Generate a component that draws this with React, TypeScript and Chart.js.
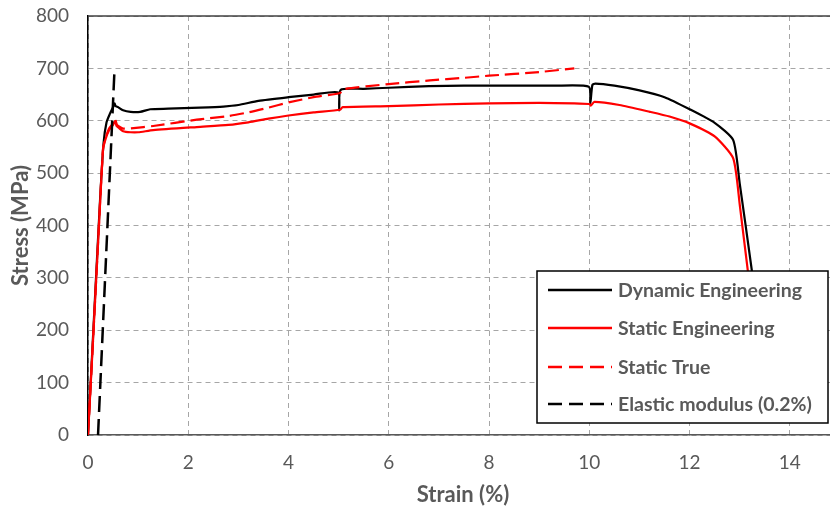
import React, { useEffect, useRef } from "react";
import { Chart, registerables } from "chart.js";
Chart.register(...registerables);

// Dynamic Engineering (black solid)
const dynStrain = [0, 0.12, 0.24, 0.31, 0.37, 0.44, 0.5, 0.53, 0.55, 0.6, 0.7, 0.85, 1.04, 1.24, 1.6, 2.23, 2.7, 3.0, 3.4, 4.0, 4.5, 4.99, 5.01, 5.04, 5.5, 6.0, 6.8, 7.5, 8.5, 9.3, 9.99, 10.02, 10.06, 10.12, 10.5, 11.0, 11.5, 12.0, 12.5, 12.87, 13.0, 13.24, 13.45];
const dynStress = [0, 225, 448, 557, 597, 614, 626, 633, 628, 626, 620, 617, 617, 622, 623, 625, 627, 630, 638, 645, 650, 654, 620, 659, 661, 663, 666, 667, 667, 667, 665, 633, 668, 671, 667, 658, 645, 622, 596, 563, 480, 315, 150];

// Static Engineering (red solid)
const sEngStrain = [0, 0.1, 0.2, 0.3, 0.35, 0.42, 0.5, 0.54, 0.57, 0.62, 0.7, 0.85, 1.0, 1.3, 2.17, 2.8, 3.2, 3.6, 4.0, 4.5, 5.03, 5.08, 6.0, 7.0, 8.0, 9.0, 10.0, 10.03, 10.1, 10.6, 11.21, 11.6, 12.0, 12.5, 12.87, 13.0, 13.16, 13.4];
const sEngStress = [0, 180, 365, 545, 565, 582, 592, 600, 590, 586, 580, 578, 578, 582, 588, 592, 597, 604, 610, 616, 621, 626, 628, 631, 633, 634, 632, 629, 636, 630, 617, 608, 595, 570, 528, 440, 315, 150];

// Static True (red dashed)
const sTrueStrain = [0, 0.1, 0.2, 0.3, 0.35, 0.42, 0.5, 0.54, 0.58, 0.7, 0.91, 1.3, 2.17, 2.8, 3.2, 3.6, 4.0, 4.5, 5.03, 5.08, 6.0, 6.82, 7.5, 8.0, 9.0, 9.7];
const sTrueStress = [0, 180, 366, 547, 567, 585, 595, 603, 592, 585, 586, 590, 602, 609, 616, 625, 635, 645, 653, 660, 670, 677, 682, 686, 693, 700];

// Elastic modulus (0.2%) (black dashed)
const elStrain = [0.2, 0.53];
const elStress = [0, 700];

const seriesNames = ["Dynamic Engineering", "Static Engineering", "Static True", "Elastic modulus (0.2%)"];
const xTickValues = [0, 2, 4, 6, 8, 10, 12, 14];
const yTickValues = [0, 100, 200, 300, 400, 500, 600, 700, 800];
const xTitle = "Strain (%)";
const yTitle = "Stress (MPa)";

const FONT = 'Lato, "Open Sans", sans-serif';
const GRAY = "#595959";

function pts(xs: number[], ys: number[]) {
  return xs.map((x, i) => ({ x, y: ys[i] }));
}

const legendItems = [
  { color: "#000000", dash: [] as number[] },
  { color: "#ff0000", dash: [] as number[] },
  { color: "#ff0000", dash: [14, 7] },
  { color: "#000000", dash: [14, 7] },
];

const overlayPlugin = {
  id: "overlay",
  afterDraw(chart: any) {
    const ctx = chart.ctx as CanvasRenderingContext2D;
    const { left, right, top, bottom } = chart.chartArea;
    ctx.save();
    // top border
    ctx.strokeStyle = "#404040";
    ctx.lineWidth = 1.5;
    ctx.beginPath();
    ctx.moveTo(left, top);
    ctx.lineTo(right, top);
    ctx.stroke();

    // axis titles
    ctx.fillStyle = GRAY;
    ctx.font = `bold 22px ${FONT}`;
    ctx.textAlign = "center";
    ctx.textBaseline = "middle";
    ctx.fillText(xTitle, 463, 495);
    ctx.save();
    ctx.translate(21, (top + bottom) / 2);
    ctx.rotate(-Math.PI / 2);
    ctx.fillText(yTitle, 0, 0);
    ctx.restore();

    // legend
    const bx = 537, by = 271, bw = 291, bh = 152;
    ctx.fillStyle = "#ffffff";
    ctx.fillRect(bx, by, bw, bh);
    ctx.strokeStyle = "#000000";
    ctx.lineWidth = 1.5;
    ctx.strokeRect(bx, by, bw, bh);
    const rows = [290, 328, 367, 404];
    ctx.font = `bold 19.5px ${FONT}`;
    ctx.textAlign = "left";
    ctx.textBaseline = "middle";
    legendItems.forEach((it, i) => {
      ctx.strokeStyle = it.color;
      ctx.lineWidth = 2.5;
      ctx.setLineDash(it.dash);
      ctx.beginPath();
      ctx.moveTo(548, rows[i]);
      ctx.lineTo(612, rows[i]);
      ctx.stroke();
      ctx.setLineDash([]);
      ctx.fillStyle = GRAY;
      ctx.fillText(seriesNames[i], 618, rows[i] + 1);
    });
    ctx.restore();
  },
};

export default function App() {
  const ref = useRef<HTMLCanvasElement | null>(null);
  useEffect(() => {
    if (!ref.current) return;
    const chart = new Chart(ref.current, {
      type: "line",
      data: {
        datasets: [
          {
            label: seriesNames[0],
            data: pts(dynStrain, dynStress),
            borderColor: "#000000",
            borderWidth: 2.2,
            pointRadius: 0,
            tension: 0.2,
            order: 3,
          },
          {
            label: seriesNames[1],
            data: pts(sEngStrain, sEngStress),
            borderColor: "#ff0000",
            borderWidth: 2.2,
            pointRadius: 0,
            tension: 0.2,
            order: 2,
          },
          {
            label: seriesNames[2],
            data: pts(sTrueStrain, sTrueStress),
            borderColor: "#ff0000",
            borderWidth: 2.2,
            borderDash: [14, 6],
            pointRadius: 0,
            tension: 0.2,
            order: 1,
          },
          {
            label: seriesNames[3],
            data: pts(elStrain, elStress),
            borderColor: "#000000",
            borderWidth: 2.5,
            borderDash: [16, 7],
            pointRadius: 0,
            order: 0,
          },
        ],
      },
      options: {
        responsive: false,
        animation: false,
        devicePixelRatio: 1,
        layout: { padding: { left: 0, top: 16, right: 10, bottom: 0 } },
        plugins: { legend: { display: false }, tooltip: { enabled: false } },
        scales: {
          x: {
            type: "linear",
            min: 0,
            max: 15,
            afterBuildTicks: (s: any) => {
              s.ticks = xTickValues.map((v) => ({ value: v }));
            },
            afterFit: (s: any) => {
              s.height = 80;
              s.paddingLeft = 0;
              s.paddingRight = 0;
            },
            ticks: { color: GRAY, font: { family: FONT, size: 19 }, padding: 16, maxRotation: 0 },
            grid: { color: "#a6a6a6", lineWidth: 1, tickLength: 0 },
            border: { color: "#595959", width: 1.5, dash: [5, 4] },
          },
          y: {
            type: "linear",
            min: 0,
            max: 800,
            afterBuildTicks: (s: any) => {
              s.ticks = yTickValues.map((v) => ({ value: v }));
            },
            afterFit: (s: any) => {
              s.width = 88;
              s.paddingTop = 0;
              s.paddingBottom = 0;
            },
            ticks: { color: GRAY, font: { family: FONT, size: 19 }, padding: 19 },
            grid: { color: "#a6a6a6", lineWidth: 1, tickLength: 0 },
            border: { color: "#000000", width: 1.5, dash: [5, 4] },
          },
        },
      },
      plugins: [overlayPlugin],
    } as any);
    return () => chart.destroy();
  }, []);
  return (
    <div style={{ position: "absolute", left: 0, top: 0, width: 830, height: 515, overflow: "hidden", background: "#fff" }}>
      <canvas ref={ref} width={850} height={515} style={{ width: 850, height: 515, display: "block" }} />
    </div>
  );
}
